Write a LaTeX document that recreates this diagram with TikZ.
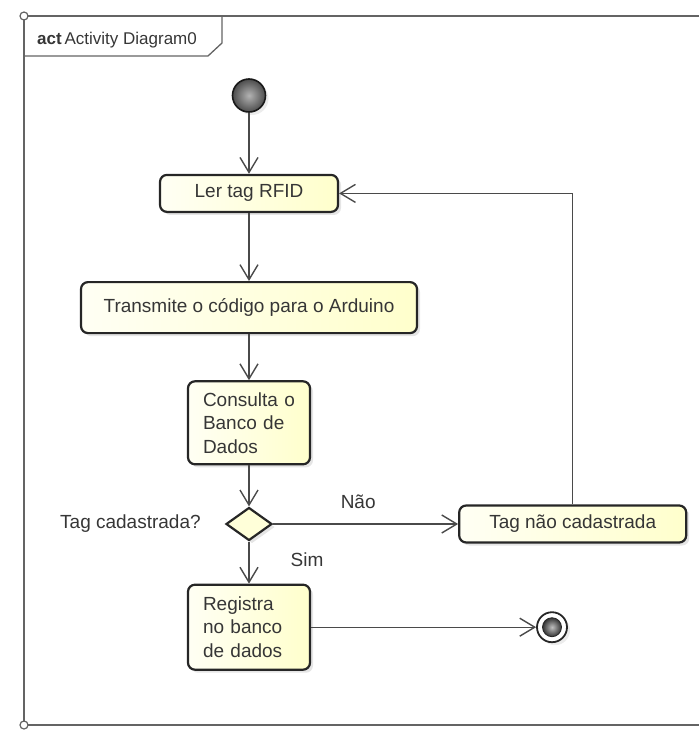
\documentclass[tikz,border=0pt]{standalone}
\usepackage{fontspec}
\setmainfont{Liberation Sans}
\usetikzlibrary{positioning, arrows.meta, shapes.geometric, shadows}
\definecolor{frameGray}{HTML}{646464}
\definecolor{lineGray}{HTML}{4A4A4A}
\definecolor{boxEdge}{HTML}{262626}
\definecolor{boxLight}{HTML}{FFFFF4}
\definecolor{boxYellow}{HTML}{FFFFCC}
\definecolor{textGray}{HTML}{363636}
\begin{document}
\begin{tikzpicture}[x=1pt, y=1pt,
      actbox/.style={draw=boxEdge, line width=2.2pt, rounded corners=7pt, left color=boxLight, right color=boxYellow,
                     text=textGray, font=\fontsize{19}{23.5}\selectfont, inner sep=0pt,
                     drop shadow={shadow xshift=3pt, shadow yshift=-3pt, fill=black!20}},
      notebox/.style={actbox, align=left, text width=92pt, minimum width=122pt},
      decision/.style={diamond, draw=boxEdge, line width=2.2pt, fill=boxYellow!75, minimum width=46pt, minimum height=33pt,
                       inner sep=0pt, drop shadow={shadow xshift=3pt, shadow yshift=-3pt, fill=black!20}},
      initnode/.style={circle, draw=black!90, line width=1.6pt, inner color=gray!60, outer color=gray!60!black,
                       minimum size=33pt, inner sep=0pt, drop shadow={shadow xshift=3pt, shadow yshift=-3pt, fill=black!15}},
      finalnode/.style={circle, draw=boxEdge, line width=1.8pt, fill=white, minimum size=30pt, inner sep=0pt,
                        drop shadow={shadow xshift=3pt, shadow yshift=-3pt, fill=black!15}},
      finaldot/.style={circle, draw=black!85, line width=0.8pt, inner color=gray!50, outer color=black!80, minimum size=19pt, inner sep=0pt},
      guard/.style={text=textGray, font=\fontsize{19}{23}\selectfont, inner sep=0pt},
      flow/.style={-{Straight Barb[length=15pt, width=18pt]}, line width=1.4pt, lineGray}]
    \useasboundingbox (0,0) rectangle (699,-731);
    \draw[frameGray, line width=1.6pt] (699,-16) -- (24,-16) -- (24,-725) -- (699,-725);
    \draw[frameGray, line width=1.3pt] (222,-16) -- (222,-43) -- (208,-56) -- (24,-56);
    \filldraw[fill=white, draw=frameGray, line width=1.2pt] (24,-16) circle (4pt) (24,-725) circle (4pt);
    \node[anchor=west, text=textGray, font=\fontsize{17}{20}\selectfont, inner sep=0pt] (titulo) at (37,-40) {\textbf{act}\,Activity Diagram0};
    \node[initnode] (inicio) at (249,-95.5) {};
    \node[actbox, minimum width=178pt, minimum height=37pt, below=61pt of inicio] (ler) {Ler tag RFID};
    \node[actbox, minimum width=336pt, minimum height=51pt, below=68pt of ler] (trans) {Transmite o código para o Arduino};
    \node[notebox, minimum height=83pt, below=46pt of trans] (consulta) {Consulta o\\ Banco de\\ Dados};
    \node[decision, below=41pt of consulta] (dec) {};
    \node[guard, left=24pt of dec] (pergunta) {Tag cadastrada?};
    \node[notebox, minimum height=85pt, below=42pt of dec] (registra) {Registra\\ no banco\\ de dados};
    \node[actbox, minimum width=227pt, minimum height=37pt, right=185pt of dec] (naocad) {Tag não cadastrada};
    \node[finalnode, right=225pt of registra] (fim) {};
    \node[finaldot] (fimdot) at (fim) {};
    \draw[flow] (inicio) -- (ler); \draw[flow] (ler) -- (trans); \draw[flow] (trans) -- (consulta); \draw[flow] (consulta) -- (dec);
    \draw[flow] (dec) -- node[guard, pos=0.42, right=41pt] {Sim} (registra);
    \draw[flow] (dec) -- node[guard, pos=0.46, above=15pt] {Não} (naocad);
    \draw[flow] (naocad.north) |- (ler.east);
    \draw[flow] (registra) -- (fim);
  \end{tikzpicture}
\end{document}
